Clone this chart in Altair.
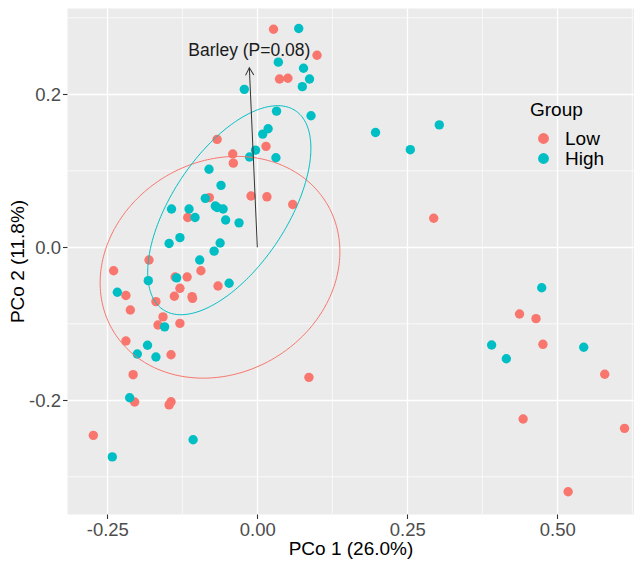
import altair as alt
import pandas as pd
import numpy as np

# ---------------- data ----------------
low_x = [0.027, 0.0995, 0.037, 0.051, -0.067, 0.0145, -0.041, -0.040,
         -0.080, -0.0105, 0.016, 0.059, -0.116, -0.1805, -0.2395, -0.094,
         -0.137, -0.117, -0.0655, -0.129, -0.219, -0.1383, -0.1088, -0.108,
         -0.2117, -0.169, -0.1572, -0.1655, -0.129, -0.219, -0.1438, -0.207,
         0.086, -0.2045, -0.1438, -0.147, -0.2733, 0.294, 0.437, 0.4645,
         0.476, 0.579, 0.443, 0.612, 0.518]
low_y = [0.285, 0.251, 0.220, 0.221, 0.141, 0.132, 0.122, 0.110,
         0.065, 0.067, 0.066, 0.056, 0.039, -0.0166, -0.0306, -0.0306,
         -0.0388, -0.0388, -0.0506, -0.0536, -0.063, -0.064, -0.0645, -0.0667,
         -0.082, -0.071, -0.091, -0.1016, -0.0995, -0.1225, -0.1404, -0.1665,
         -0.170, -0.2022, -0.2018, -0.206, -0.2458, 0.038, -0.0872, -0.0933,
         -0.1268, -0.166, -0.2245, -0.2366, -0.3195]

high_x = [0.069, 0.035, 0.077, 0.087, 0.075, -0.0217, 0.032, 0.0895,
          0.018, 0.009, -0.003, -0.013, 0.031, -0.0805, -0.0605, -0.0867,
          -0.143, -0.1138, -0.070, -0.067, -0.057, -0.1038, -0.0528, -0.0305,
          -0.129, -0.147, -0.062, -0.072, -0.096, -0.1817, -0.1345, -0.047,
          -0.2333, -0.1545, -0.183, -0.200, -0.169, -0.2128, -0.107, -0.2417,
          0.197, 0.3033, 0.255, 0.474, 0.3905, 0.544, 0.415]
high_y = [0.286, 0.242, 0.234, 0.220, 0.210, 0.2065, 0.178, 0.172,
          0.155, 0.148, 0.127, 0.118, 0.117, 0.102, 0.081, 0.064,
          0.050, 0.050, 0.054, 0.052, 0.050, 0.039, 0.0357, 0.032,
          0.0126, 0.005, 0.0056, -0.005, -0.0166, -0.0436, -0.040, -0.047,
          -0.0588, -0.104, -0.128, -0.1395, -0.1434, -0.1966, -0.2515, -0.274,
          0.150, 0.160, 0.1276, -0.0528, -0.1277, -0.1307, -0.1456]

groups = ["Low", "High"]
colors = ["#F8766D", "#00BFC4"]

# ellipse shape (centre x, centre y, L11, L21, L22) per group
ellipse_params = {
    "Low": (-0.0622, -0.0261, 0.1998, 0.0203, 0.1435),
    "High": (-0.0467, 0.0485, 0.136, 0.081, 0.110),
}

# fitted vector (arrow) and its label
arrow_x_end = -0.0133
arrow_y_end = 0.2348
arrow_label = "Barley (P=0.08)"
label_y = 0.2566

x_ticks = [-0.25, 0.0, 0.25, 0.50]
y_ticks = [-0.2, 0.0, 0.2]
x_minor = [-0.125, 0.125, 0.375, 0.625]
y_minor = [-0.3, -0.1, 0.1, 0.3]

x_domain = [-0.3172, 0.6278]
y_domain = [-0.3486, 0.3128]

# ---------------- tables ----------------
pts = pd.DataFrame({
    "x": low_x + high_x,
    "y": low_y + high_y,
    "Group": ["Low"] * len(low_x) + ["High"] * len(high_x),
})

rows = []
t = np.linspace(0, 2 * np.pi, 241)
for g in groups:
    cx, cy, l11, l21, l22 = ellipse_params[g]
    for i, tt in enumerate(t):
        rows.append({"x": cx + l11 * np.cos(tt),
                     "y": cy + l21 * np.cos(tt) + l22 * np.sin(tt),
                     "Group": g, "i": i})
ell = pd.DataFrame(rows)

arrow = pd.DataFrame({"x": [0.0], "y": [0.0], "x2": [arrow_x_end], "y2": [arrow_y_end]})
head = pd.DataFrame({"x": [arrow_x_end], "y": [arrow_y_end]})
lab = pd.DataFrame({"x": [arrow_x_end], "y": [label_y], "t": [arrow_label]})
xminor = pd.DataFrame({"v": x_minor})
yminor = pd.DataFrame({"v": y_minor})

W, H = 567, 506
xscale = alt.Scale(domain=x_domain, nice=False, zero=False)
yscale = alt.Scale(domain=y_domain, nice=False, zero=False)
cscale = alt.Scale(domain=groups, range=colors)

# head rotation derived from the on-screen direction of the arrow
px_per_x = W / (x_domain[1] - x_domain[0])
px_per_y = H / (y_domain[1] - y_domain[0])
ang = np.degrees(np.arctan2(arrow_x_end * px_per_x, arrow_y_end * px_per_y)) % 360

x_axis = alt.Axis(values=x_ticks, title="PCo 1 (26.0%)",
                  labelExpr="datum.value < 0 ? '-' + format(-datum.value, '.2f') : format(datum.value, '.2f')",
                  grid=True, gridColor="white", gridWidth=1.3, domain=False,
                  tickColor="#333333", tickSize=4.5, tickWidth=1.1,
                  labelFontSize=18.5, labelColor="#4D4D4D", labelPadding=2,
                  titleFontSize=19, titleColor="black", titleFontWeight="normal",
                  titlePadding=0, labelFlush=False)
y_axis = alt.Axis(values=y_ticks, title="PCo 2 (11.8%)",
                  labelExpr="datum.value < 0 ? '-' + format(-datum.value, '.1f') : format(datum.value, '.1f')",
                  grid=True, gridColor="white", gridWidth=1.3, domain=False,
                  tickColor="#333333", tickSize=4.5, tickWidth=1.1,
                  labelFontSize=18.5, labelColor="#4D4D4D", labelPadding=2,
                  titleFontSize=19, titleColor="black", titleFontWeight="normal",
                  titlePadding=1, labelFlush=False)

base = alt.Chart(pts)

minor_v = alt.Chart(xminor).mark_rule(color="white", strokeWidth=0.7).encode(
    x=alt.X("v:Q", scale=xscale, axis=x_axis))
minor_h = alt.Chart(yminor).mark_rule(color="white", strokeWidth=0.7).encode(
    y=alt.Y("v:Q", scale=yscale, axis=y_axis))

points = base.mark_circle(size=88, opacity=1).encode(
    x=alt.X("x:Q", scale=xscale, axis=x_axis),
    y=alt.Y("y:Q", scale=yscale, axis=y_axis),
    color=alt.Color("Group:N", scale=cscale, sort=groups,
                    legend=alt.Legend(title="Group", orient="none", legendX=463, legendY=93,
                                      titleFontSize=19, labelFontSize=19,
                                      titleFontWeight="normal", titleColor="black",
                                      labelColor="black", symbolSize=88, symbolType="circle",
                                      padding=0, rowPadding=0, labelOffset=12,
                                      symbolOffset=4, titlePadding=9)),
)

ellipses = alt.Chart(ell).mark_line(strokeWidth=1, clip=True).encode(
    x=alt.X("x:Q", scale=xscale),
    y=alt.Y("y:Q", scale=yscale),
    color=alt.Color("Group:N", scale=cscale, legend=None),
    detail="Group:N",
    order="i:Q",
)

arrow_line = alt.Chart(arrow).mark_rule(color="#333333", strokeWidth=1).encode(
    x=alt.X("x:Q", scale=xscale), y=alt.Y("y:Q", scale=yscale),
    x2="x2:Q", y2="y2:Q")

arrow_head = alt.Chart(head).mark_point(
    shape="M-0.55,1L0,0L0.55,1", filled=False, color="#333333",
    strokeWidth=1, size=225, angle=float(ang), opacity=1).encode(
    x=alt.X("x:Q", scale=xscale), y=alt.Y("y:Q", scale=yscale))

label = alt.Chart(lab).mark_text(fontSize=17.5, color="#1A1A1A", align="center",
                                 baseline="middle").encode(
    x=alt.X("x:Q", scale=xscale), y=alt.Y("y:Q", scale=yscale), text="t:N")

chart = alt.layer(minor_v, minor_h, points, ellipses, arrow_line, arrow_head, label).properties(
    width=W, height=H,
    autosize=alt.AutoSizeParams(type="none"),
    padding={"left": 59, "top": 0, "right": 0, "bottom": 52},
).configure(
    font="Liberation Sans",
    view=alt.ViewConfig(fill="#EBEBEB", stroke="transparent"),
)

chart.save("out.html", embed_options={"renderer": "svg", "actions": False})
